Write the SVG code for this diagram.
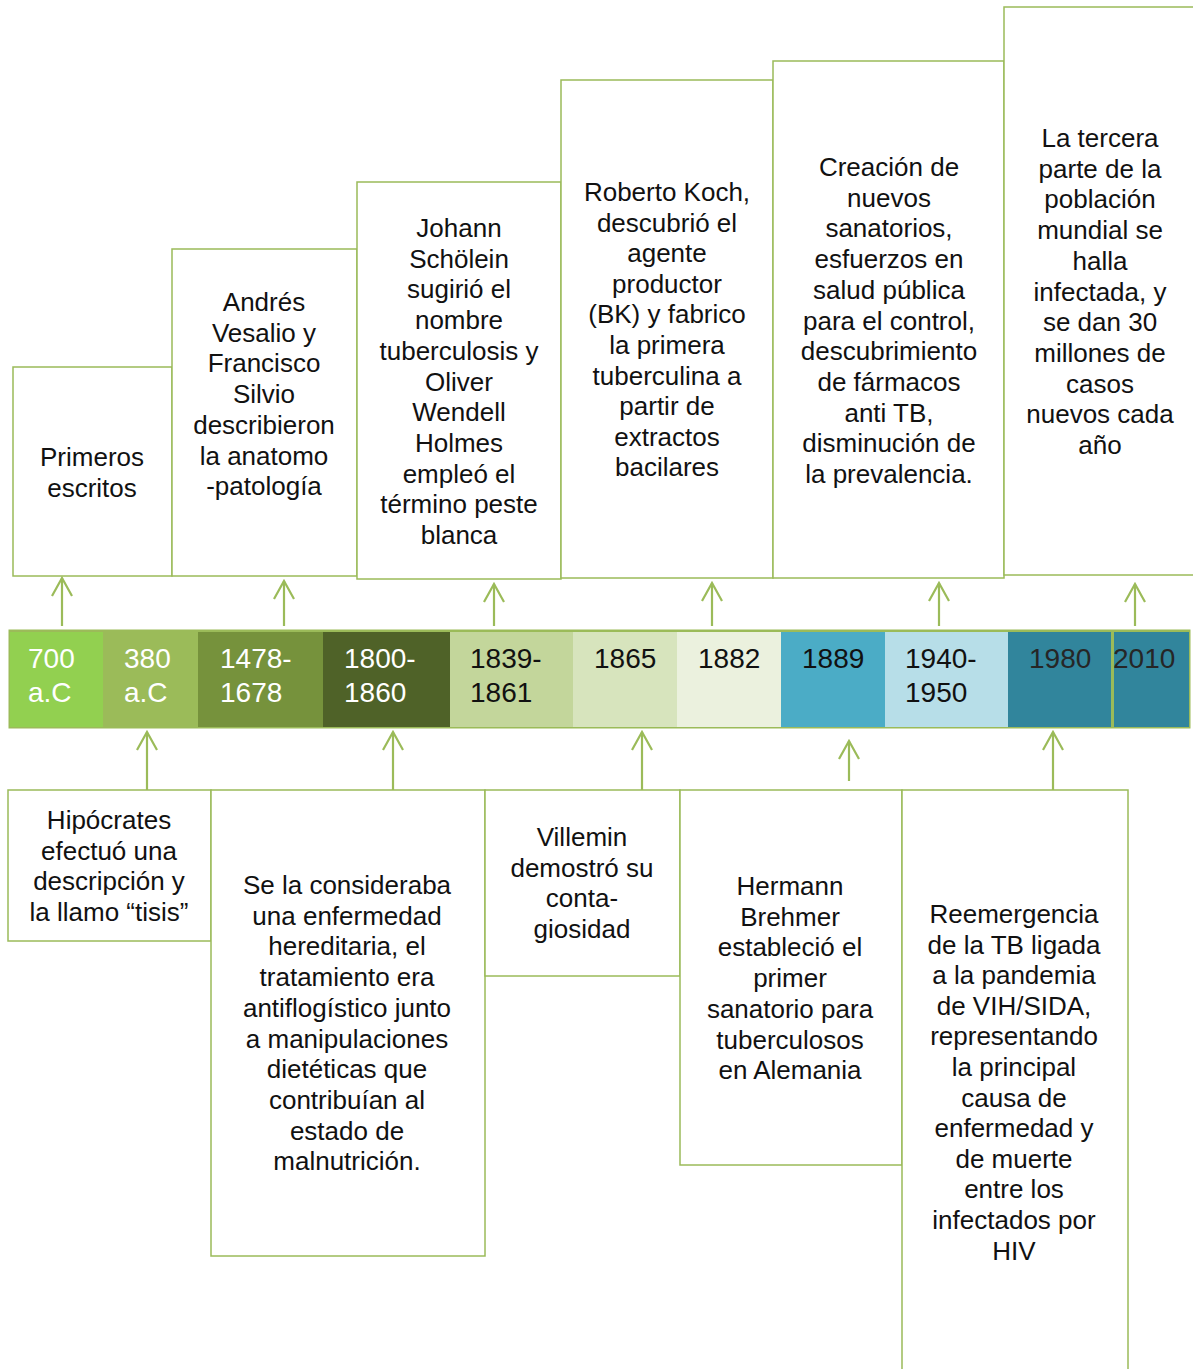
<svg xmlns="http://www.w3.org/2000/svg" width="1193" height="1369" viewBox="0 0 1193 1369">
<defs>
<style>
.box{fill:#fff;stroke:#9BBB59;stroke-width:1.5}
.t{font-family:"Liberation Sans",Arial,sans-serif;font-size:26px;fill:#111;text-anchor:middle}
.y{font-family:"Liberation Sans",Arial,sans-serif;font-size:28px}
.w{fill:#fff}.k{fill:#111}.g{fill:#262626}
.c{stroke:#9BBB59;stroke-width:2.2;fill:none}
</style>
<marker id="ah" markerWidth="24" markerHeight="24" viewBox="-22 -12 24 24" refX="0" refY="0" orient="auto" markerUnits="userSpaceOnUse">
<path d="M-18,-10 L0,0 L-18,10" fill="none" stroke="#9BBB59" stroke-width="2.2"/>
</marker>
</defs>

<g id="top-boxes">
<g id="n-primeros"><rect class="box" x="13" y="367" width="159" height="209"/>
<text class="t" x="92" y="466"><tspan x="92">Primeros</tspan><tspan x="92" dy="30.7">escritos</tspan></text></g>
<g id="n-vesalio"><rect class="box" x="172" y="249" width="185" height="327"/>
<text class="t" x="264" y="311"><tspan x="264">Andrés</tspan><tspan x="264" dy="30.7">Vesalio y</tspan><tspan x="264" dy="30.7">Francisco</tspan><tspan x="264" dy="30.7">Silvio</tspan><tspan x="264" dy="30.7">describieron</tspan><tspan x="264" dy="30.7">la anatomo</tspan><tspan x="264" dy="30.7">-patología</tspan></text></g>
<g id="n-schoelein"><rect class="box" x="357" y="182" width="204" height="397"/>
<text class="t" x="459" y="237"><tspan x="459">Johann</tspan><tspan x="459" dy="30.7">Schölein</tspan><tspan x="459" dy="30.7">sugirió el</tspan><tspan x="459" dy="30.7">nombre</tspan><tspan x="459" dy="30.7">tuberculosis y</tspan><tspan x="459" dy="30.7">Oliver</tspan><tspan x="459" dy="30.7">Wendell</tspan><tspan x="459" dy="30.7">Holmes</tspan><tspan x="459" dy="30.7">empleó el</tspan><tspan x="459" dy="30.7">término peste</tspan><tspan x="459" dy="30.7">blanca</tspan></text></g>
<g id="n-koch"><rect class="box" x="561" y="80" width="212" height="498"/>
<text class="t" x="667" y="201"><tspan x="667">Roberto Koch,</tspan><tspan x="667" dy="30.6">descubrió el</tspan><tspan x="667" dy="30.6">agente</tspan><tspan x="667" dy="30.6">productor</tspan><tspan x="667" dy="30.6">(BK) y fabrico</tspan><tspan x="667" dy="30.6">la primera</tspan><tspan x="667" dy="30.6">tuberculina a</tspan><tspan x="667" dy="30.6">partir de</tspan><tspan x="667" dy="30.6">extractos</tspan><tspan x="667" dy="30.6">bacilares</tspan></text></g>
<g id="n-sanatorios"><rect class="box" x="773" y="61" width="231" height="517"/>
<text class="t" x="889" y="176"><tspan x="889">Creación de</tspan><tspan x="889" dy="30.7">nuevos</tspan><tspan x="889" dy="30.7">sanatorios,</tspan><tspan x="889" dy="30.7">esfuerzos en</tspan><tspan x="889" dy="30.7">salud pública</tspan><tspan x="889" dy="30.7">para el control,</tspan><tspan x="889" dy="30.7">descubrimiento</tspan><tspan x="889" dy="30.7">de fármacos</tspan><tspan x="889" dy="30.7">anti TB,</tspan><tspan x="889" dy="30.7">disminución de</tspan><tspan x="889" dy="30.7">la prevalencia.</tspan></text></g>
<g id="n-tercera"><rect class="box" x="1004" y="7" width="200" height="568"/>
<text class="t" x="1100" y="147"><tspan x="1100">La tercera</tspan><tspan x="1100" dy="30.7">parte de la</tspan><tspan x="1100" dy="30.7">población</tspan><tspan x="1100" dy="30.7">mundial se</tspan><tspan x="1100" dy="30.7">halla</tspan><tspan x="1100" dy="30.7">infectada, y</tspan><tspan x="1100" dy="30.7">se dan 30</tspan><tspan x="1100" dy="30.7">millones de</tspan><tspan x="1100" dy="30.7">casos</tspan><tspan x="1100" dy="30.7">nuevos cada</tspan><tspan x="1100" dy="30.7">año</tspan></text></g>
</g>

<g id="bottom-boxes">
<g id="n-hipocrates"><rect class="box" x="8" y="790" width="203" height="151"/>
<text class="t" x="109" y="829"><tspan x="109">Hipócrates</tspan><tspan x="109" dy="30.7">efectuó una</tspan><tspan x="109" dy="30.7">descripción y</tspan><tspan x="109" dy="30.7">la llamo “tisis”</tspan></text></g>
<g id="n-hereditaria"><rect class="box" x="211" y="790" width="274" height="466"/>
<text class="t" x="347" y="894"><tspan x="347">Se la consideraba</tspan><tspan x="347" dy="30.7">una enfermedad</tspan><tspan x="347" dy="30.7">hereditaria, el</tspan><tspan x="347" dy="30.7">tratamiento era</tspan><tspan x="347" dy="30.7">antiflogístico junto</tspan><tspan x="347" dy="30.7">a manipulaciones</tspan><tspan x="347" dy="30.7">dietéticas que</tspan><tspan x="347" dy="30.7">contribuían al</tspan><tspan x="347" dy="30.7">estado de</tspan><tspan x="347" dy="30.7">malnutrición.</tspan></text></g>
<g id="n-villemin"><rect class="box" x="485" y="790" width="195" height="186"/>
<text class="t" x="582" y="846"><tspan x="582">Villemin</tspan><tspan x="582" dy="30.7">demostró su</tspan><tspan x="582" dy="30.7">conta-</tspan><tspan x="582" dy="30.7">giosidad</tspan></text></g>
<g id="n-brehmer"><rect class="box" x="680" y="790" width="222" height="375"/>
<text class="t" x="790" y="895"><tspan x="790">Hermann</tspan><tspan x="790" dy="30.7">Brehmer</tspan><tspan x="790" dy="30.7">estableció el</tspan><tspan x="790" dy="30.7">primer</tspan><tspan x="790" dy="30.7">sanatorio para</tspan><tspan x="790" dy="30.7">tuberculosos</tspan><tspan x="790" dy="30.7">en Alemania</tspan></text></g>
<g id="n-reemergencia"><rect class="box" x="902" y="790" width="226" height="600"/>
<text class="t" x="1014" y="923"><tspan x="1014">Reemergencia</tspan><tspan x="1014" dy="30.6">de la TB ligada</tspan><tspan x="1014" dy="30.6">a la pandemia</tspan><tspan x="1014" dy="30.6">de VIH/SIDA,</tspan><tspan x="1014" dy="30.6">representando</tspan><tspan x="1014" dy="30.6">la principal</tspan><tspan x="1014" dy="30.6">causa de</tspan><tspan x="1014" dy="30.6">enfermedad y</tspan><tspan x="1014" dy="30.6">de muerte</tspan><tspan x="1014" dy="30.6">entre los</tspan><tspan x="1014" dy="30.6">infectados por</tspan><tspan x="1014" dy="30.6">HIV</tspan></text></g>
</g>

<g id="timeline">
<rect x="8.5" y="629.5" width="1182" height="99" fill="#9BBB59"/>
<rect x="10" y="632" width="93" height="95" fill="#92D050"/>
<rect x="103" y="632" width="95" height="95" fill="#9BBB59"/>
<rect x="198" y="632" width="125" height="95" fill="#76923C"/>
<rect x="323" y="632" width="127" height="95" fill="#4F6228"/>
<rect x="450" y="632" width="123" height="95" fill="#C3D69B"/>
<rect x="573" y="632" width="104" height="95" fill="#D7E4BD"/>
<rect x="677" y="632" width="104" height="95" fill="#EBF1DE"/>
<rect x="781" y="632" width="104" height="95" fill="#4BACC6"/>
<rect x="885" y="632" width="123" height="95" fill="#B7DEE8"/>
<rect x="1008" y="632" width="103" height="95" fill="#31859C"/>
<rect x="1114" y="632" width="75" height="95" fill="#31859C"/>
<g class="y">
<text class="w" x="28" y="668"><tspan x="28">700</tspan><tspan x="28" dy="34">a.C</tspan></text>
<text class="w" x="124" y="668"><tspan x="124">380</tspan><tspan x="124" dy="34">a.C</tspan></text>
<text class="w" x="220" y="668"><tspan x="220">1478-</tspan><tspan x="220" dy="34">1678</tspan></text>
<text class="w" x="344" y="668"><tspan x="344">1800-</tspan><tspan x="344" dy="34">1860</tspan></text>
<text class="k" x="470" y="668"><tspan x="470">1839-</tspan><tspan x="470" dy="34">1861</tspan></text>
<text class="k" x="594" y="668">1865</text>
<text class="k" x="698" y="668">1882</text>
<text class="k" x="802" y="668">1889</text>
<text class="k" x="905" y="668"><tspan x="905">1940-</tspan><tspan x="905" dy="34">1950</tspan></text>
<text class="g" x="1029" y="668">1980</text>
<text class="g" x="1113" y="668">2010</text>
</g>
</g>

<g id="connectors">
<line class="c" x1="62" y1="626" x2="62" y2="578" marker-end="url(#ah)"/>
<line class="c" x1="284" y1="626" x2="284" y2="581" marker-end="url(#ah)"/>
<line class="c" x1="494" y1="626" x2="494" y2="584" marker-end="url(#ah)"/>
<line class="c" x1="712" y1="626" x2="712" y2="583" marker-end="url(#ah)"/>
<line class="c" x1="939" y1="626" x2="939" y2="583" marker-end="url(#ah)"/>
<line class="c" x1="1135" y1="626" x2="1135" y2="584" marker-end="url(#ah)"/>
<line class="c" x1="147" y1="790" x2="147" y2="732" marker-end="url(#ah)"/>
<line class="c" x1="393" y1="790" x2="393" y2="732" marker-end="url(#ah)"/>
<line class="c" x1="642" y1="790" x2="642" y2="732" marker-end="url(#ah)"/>
<line class="c" x1="849" y1="781" x2="849" y2="741" marker-end="url(#ah)"/>
<line class="c" x1="1053" y1="790" x2="1053" y2="732" marker-end="url(#ah)"/>
</g>
</svg>
